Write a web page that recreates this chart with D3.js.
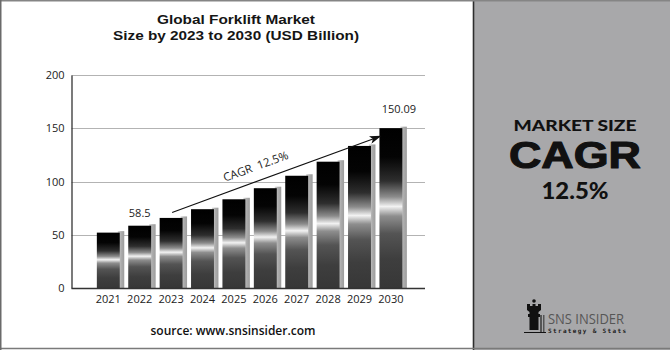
<!DOCTYPE html>
<html>
<head>
<meta charset="utf-8">
<script src="https://cdn.jsdelivr.net/npm/d3@7"></script>
<style>
  html, body { margin: 0; padding: 0; background: #fff; }
  svg { display: block; }
</style>
</head>
<body>
<script>
// Global forklift market size, USD billion
const years = ["2021", "2022", "2023", "2024", "2025", "2026", "2027", "2028", "2029", "2030"];
const marketSize = [52.0, 58.5, 65.8, 74.0, 83.3, 93.7, 105.4, 118.6, 133.4, 150.09];
const labelledYears = ["2022", "2030"];
const labelText = ["58.5", "150.09"];
const yTicks = [0, 50, 100, 150, 200];
const cagrText = "CAGR 12.5%";
const titleLines = ["Global Forklift Market", "Size by 2023 to 2030 (USD Billion)"];
const panelLines = ["MARKET SIZE", "CAGR", "12.5%"];

const W = 670, H = 350;
const svg = d3.select("body").append("svg").attr("width", W).attr("height", H);

// ---- gradients ----
const defs = svg.append("defs");
const barGrad = defs.append("linearGradient").attr("id", "barGrad")
  .attr("x1", 0).attr("y1", 0).attr("x2", 0).attr("y2", 1);
[[0, "#000"], [0.18, "#040404"], [0.33, "#2e2e2e"], [0.43, "#8c8c8c"], [0.49, "#f2f2f2"],
 [0.55, "#8e8e8e"], [0.66, "#545454"], [0.82, "#3e3e3e"], [1, "#373737"]]
  .forEach(([o, c]) => barGrad.append("stop").attr("offset", o).attr("stop-color", c));
const shadeGrad = defs.append("linearGradient").attr("id", "shadeGrad")
  .attr("x1", 0).attr("y1", 0).attr("x2", 1).attr("y2", 0);
[[0, "#d4d4d4"], [0.5, "#adadad"], [1, "#9c9c9c"]]
  .forEach(([o, c]) => shadeGrad.append("stop").attr("offset", o).attr("stop-color", c));
const marker = defs.append("marker").attr("id", "arrowHead")
  .attr("viewBox", "0 0 12 8").attr("refX", 11).attr("refY", 4)
  .attr("markerWidth", 12).attr("markerHeight", 8)
  .attr("markerUnits", "userSpaceOnUse").attr("orient", "auto");
marker.append("path").attr("d", "M0,0 L12,4 L0,8 L3,4 Z").attr("fill", "#111");

// ---- frame ----
svg.append("rect").attr("x", 0).attr("y", 0).attr("width", W).attr("height", H).attr("fill", "#fff");
svg.append("rect").attr("x", 474).attr("y", 0).attr("width", W - 474).attr("height", H).attr("fill", "#a8a8aa");
svg.append("line").attr("x1", 473.5).attr("x2", 473.5).attr("y1", 0).attr("y2", H)
  .attr("stroke", "#2e2e2e").attr("stroke-width", 1.6);
svg.append("line").attr("x1", 0).attr("x2", W).attr("y1", 0.75).attr("y2", 0.75)
  .attr("stroke", "#858585").attr("stroke-width", 1.5);
svg.append("line").attr("x1", 0).attr("x2", W).attr("y1", 348.5).attr("y2", 348.5)
  .attr("stroke", "#7a7a7a").attr("stroke-width", 1.5);
svg.append("line").attr("x1", 0.75).attr("x2", 0.75).attr("y1", 0).attr("y2", H)
  .attr("stroke", "#6a6a6a").attr("stroke-width", 1.5);

// ---- title ----
const titleLen = [158, 246];
svg.append("g").selectAll("text").data(titleLines).join("text")
  .attr("x", 236).attr("y", (d, i) => 24 + i * 15.5)
  .attr("text-anchor", "middle")
  .attr("font-family", "'Liberation Sans', Arial, sans-serif").attr("font-weight", 700)
  .attr("font-size", 13.5).attr("fill", "#151515")
  .attr("textLength", (d, i) => titleLen[i]).attr("lengthAdjust", "spacingAndGlyphs")
  .text(d => d);

// ---- scales ----
const x = d3.scaleBand().domain(years).range([92.6, 406.6]).paddingInner(0.27).paddingOuter(0.135);
const y = d3.scaleLinear().domain([0, 200]).range([288, 75]);
const axisLeftX = 71.5, plotRight = 425;

// gridlines
svg.append("g").selectAll("line").data(yTicks.filter(t => t > 0)).join("line")
  .attr("x1", axisLeftX).attr("x2", plotRight)
  .attr("y1", d => Math.round(y(d)) + 0.5).attr("y2", d => Math.round(y(d)) + 0.5)
  .attr("stroke", "#b3b3b3").attr("stroke-width", 1);

// y axis
const yAxis = svg.append("g").attr("transform", `translate(${axisLeftX},0)`)
  .call(d3.axisLeft(y).tickValues(yTicks).tickSize(0).tickPadding(7));
yAxis.select(".domain").attr("stroke", "#222").attr("stroke-width", 1.2);
yAxis.selectAll("text").attr("font-family", "'Open Sans', sans-serif").attr("font-size", 11).attr("fill", "#222");

// bars with a soft grey side shade
const bw = x.bandwidth();
const barG = svg.append("g");
const bars = years.map((yr, i) => ({ yr, v: marketSize[i] }));
barG.selectAll("rect.shade").data(bars).join("rect").attr("class", "shade")
  .attr("x", d => x(d.yr) + bw - 2).attr("y", d => y(d.v) - 1.5)
  .attr("width", 6.5).attr("height", d => y(0) - y(d.v) + 1.5)
  .attr("fill", "url(#shadeGrad)");
barG.selectAll("rect.bar").data(bars).join("rect").attr("class", "bar")
  .attr("x", d => x(d.yr)).attr("y", d => y(d.v))
  .attr("width", bw).attr("height", d => y(0) - y(d.v))
  .attr("fill", "url(#barGrad)");

// x axis
const xAxis = svg.append("g").attr("transform", `translate(0,${y(0)})`)
  .call(d3.axisBottom(x).tickSize(0).tickPadding(7));
xAxis.select(".domain").attr("d", `M${axisLeftX},0.5H${plotRight}`).attr("stroke", "#333").attr("stroke-width", 1.4);
xAxis.selectAll("text").attr("font-family", "'Open Sans', sans-serif").attr("font-size", 11).attr("fill", "#222");

// value labels
svg.append("g").selectAll("text").data(labelledYears).join("text")
  .attr("x", (d, i) => x(d) + bw / 2 + (i === 1 ? 8 : 0))
  .attr("y", (d, i) => y(marketSize[years.indexOf(d)]) - (i === 1 ? 15 : 9))
  .attr("text-anchor", "middle")
  .attr("font-family", "'Open Sans', sans-serif").attr("font-size", 11).attr("fill", "#222")
  .text((d, i) => labelText[i]);

// CAGR arrow from the 2023 bar to the 2030 bar
const a0 = [x("2023") + bw / 2 + 1, y(marketSize[2]) - 5.5];
const a1 = [x("2030") + 1, y(marketSize[9]) + 8];
svg.append("line").attr("x1", a0[0]).attr("y1", a0[1]).attr("x2", a1[0]).attr("y2", a1[1])
  .attr("stroke", "#111").attr("stroke-width", 1.1).attr("marker-end", "url(#arrowHead)");
const ang = Math.atan2(a1[1] - a0[1], a1[0] - a0[0]) * 180 / Math.PI;
const tm = 0.425;
const tx = a0[0] + (a1[0] - a0[0]) * tm, ty = a0[1] + (a1[1] - a0[1]) * tm;
svg.append("text")
  .attr("transform", `translate(${tx},${ty}) rotate(${ang}) translate(0,-10.5)`)
  .attr("text-anchor", "middle")
  .attr("font-family", "'Open Sans', sans-serif").attr("font-size", 11.5).attr("fill", "#222")
  .attr("word-spacing", 3)
  .text(cagrText);

// source
svg.append("text").attr("x", 233).attr("y", 335).attr("text-anchor", "middle")
  .attr("font-family", "'Open Sans', sans-serif").attr("font-weight", 600)
  .attr("font-size", 12).attr("fill", "#111")
  .text("source: www.snsinsider.com");

// ---- right panel ----
const panelX = 575;
const pSizes = [15.5, 37, 22.5];
const pY = [131, 168, 198.5];
const pLen = [123, 132, 67];
const pFont = ["Lato, sans-serif", "'Liberation Sans', Arial, sans-serif", "Lato, sans-serif"];
const pStroke = [0, 1.1, 0];
svg.append("g").selectAll("text").data(panelLines).join("text")
  .attr("x", panelX).attr("y", (d, i) => pY[i])
  .attr("text-anchor", "middle")
  .attr("font-family", (d, i) => pFont[i]).attr("font-weight", (d, i) => i === 1 ? 700 : 900)
  .attr("font-size", (d, i) => pSizes[i]).attr("fill", "#111")
  .attr("stroke", "#111").attr("stroke-width", (d, i) => pStroke[i]).attr("stroke-linejoin", "round")
  .attr("textLength", (d, i) => pLen[i]).attr("lengthAdjust", "spacingAndGlyphs")
  .text(d => d);

// logo: rook icon with wordmark
const logo = svg.append("g").attr("transform", "translate(524,299)");
logo.append("circle").attr("cx", 10).attr("cy", 2).attr("r", 1.8).attr("fill", "#111");
logo.append("path").attr("fill", "#111").attr("d",
  "M3,5 H6 V7 H8.5 V5 H11.5 V7 H14 V5 H17 V11 L14.5,13 V15 H16 V18 H14.5 V31 H5.5 V18 H4 V15 H5.5 V13 L3,11 Z");
logo.append("path").attr("fill", "#111").attr("d", "M0,33 H22 V34 H0 Z");
logo.append("rect").attr("x", 16).attr("y", 16).attr("width", 2).attr("height", 17).attr("fill", "#555");
logo.append("rect").attr("x", 19).attr("y", 16).attr("width", 1.5).attr("height", 17).attr("fill", "#555");
svg.append("text").attr("x", 548).attr("y", 324)
  .attr("font-family", "'Open Sans', sans-serif").attr("font-size", 14.5).attr("fill", "#565656")
  .attr("textLength", 76).attr("lengthAdjust", "spacingAndGlyphs")
  .text("SNS INSIDER");
svg.append("text").attr("x", 548).attr("y", 333)
  .attr("font-family", "'DejaVu Sans Mono', monospace").attr("font-weight", 700)
  .attr("font-size", 6).attr("fill", "#222")
  .attr("textLength", 78).attr("lengthAdjust", "spacing")
  .text("Strategy & Stats");
</script>
</body>
</html>
